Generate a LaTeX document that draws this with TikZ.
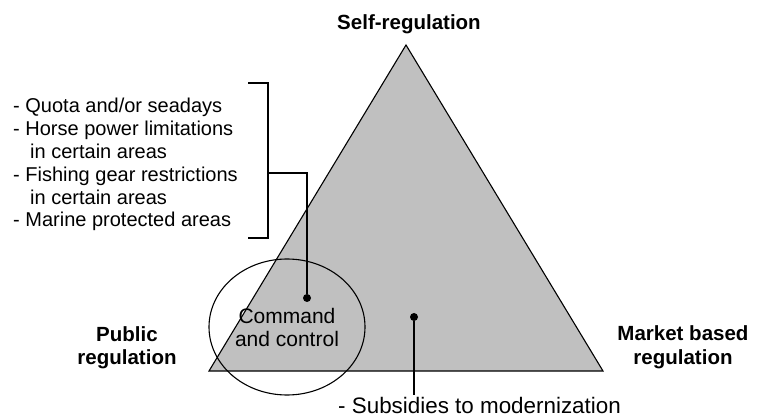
\documentclass[tikz,border=0pt]{standalone}
\usepackage{fontspec}
\setmainfont{Liberation Sans}
\usetikzlibrary{shapes.geometric,positioning,calc}
\definecolor{trifill}{HTML}{C0C0C0}
\tikzset{
  lbl/.style={font=\fontsize{20.5}{23.5}\selectfont\bfseries, align=center, inner sep=0pt},
  txt/.style={font=\fontsize{20}{22.8}\selectfont, align=left, inner sep=0pt},
  dot/.style={circle, fill=black, inner sep=0pt, minimum size=8pt},
  ln/.style={line width=1.1pt},
}
\begin{document}
\begin{tikzpicture}[x=1pt, y=-1pt]
\useasboundingbox (0,0) rectangle (760,419);
% triangle
\coordinate (top) at (406,45);
\coordinate (bl) at (209,371);
\coordinate (br) at (603,371);
\fill[trifill] (top) -- (br) -- (bl) -- cycle;
\draw[ln, line join=miter] (top) -- (br) -- (bl) -- cycle;
% corner labels
\node[lbl, anchor=base] (self) at (409,30) {Self-regulation};
\node[lbl, anchor=base] (pub) at (127,365) {Public\\regulation};
\node[lbl, anchor=base] (mkt) at (683,364) {Market based\\regulation};
% command and control
\node[draw, ellipse, ln, minimum width=156pt, minimum height=136pt,
      txt, font=\fontsize{21}{23}\selectfont, align=center] (cc) at (287,327) {Command\\and control};
\node[dot] (d1) at (307,298) {};
\node[dot] (d2) at (414,317) {};
% list with bracket
\node[txt, anchor=base west] (list) at (13,227) {- Quota and/or seadays\\
- Horse power limitations\\
\hspace*{0.85em}in certain areas\\
- Fishing gear restrictions\\
\hspace*{0.85em}in certain areas\\
- Marine protected areas};
\coordinate (bt) at (268,83);
\coordinate (bb) at (268,238);
\coordinate (bm) at (268,173);
\draw[ln] ([xshift=-20pt]bt) -- (bt) -- (bb) -- ([xshift=-20pt]bb);
\draw[ln] (bm) -| (d1);
% subsidies
\node[txt, font=\fontsize{22.4}{24}\selectfont, anchor=base west] (sub) at (338,413) {- Subsidies to modernization};
\draw[ln] (d2) -- (d2 |- 0,395);
\end{tikzpicture}
\end{document}
